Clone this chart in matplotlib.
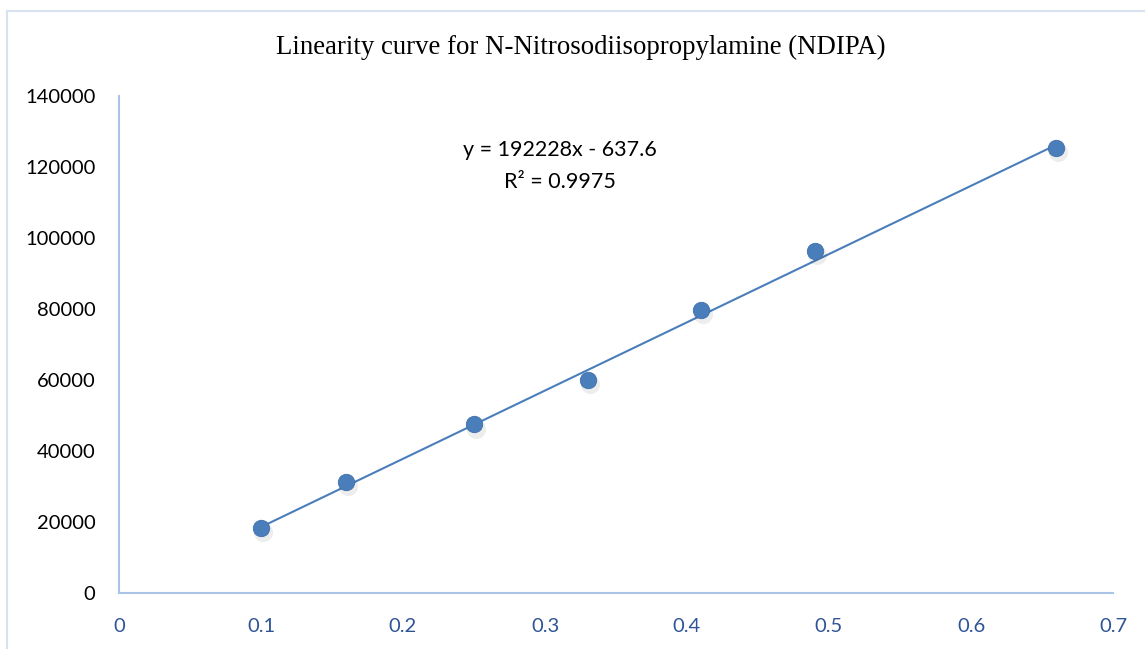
import numpy as np
import matplotlib.pyplot as plt
import matplotlib.transforms as mtransforms
from matplotlib.lines import Line2D

conc = [0.1, 0.16, 0.25, 0.33, 0.41, 0.49, 0.66]
area = [18400, 31300, 47500, 60000, 79700, 96400, 125350]
slope = 192228
intercept = -637.6

W, H = 1145, 649
fig = plt.figure(figsize=(W / 100, H / 100), dpi=100)

# outer chart frame (partly cropped in the reference)
fig.add_artist(Line2D([7 / W, 7 / W], [0, 1 - 11 / H], color='#d9e2f0', lw=1.5, transform=fig.transFigure))
fig.add_artist(Line2D([7 / W, 1], [1 - 11 / H, 1 - 11 / H], color='#d9e2f0', lw=1.5, transform=fig.transFigure))

ax = fig.add_axes([119 / W, (H - 593) / H, (1113 - 119) / W, (593 - 96) / H])

xs = np.array([min(conc), max(conc)])
ax.plot(xs, slope * xs + intercept, color='#4a7ebb', lw=1.5, zorder=2)

# soft shadow under the markers
shadow = ax.transData + mtransforms.ScaledTranslation(1.5 / 72, -3 / 72, fig.dpi_scale_trans)
ax.scatter(conc, area, s=190, color='#000000', alpha=0.07, linewidths=0, transform=shadow, zorder=2.5)
ax.scatter(conc, area, s=140, color='#4a7ebb', edgecolors='#3f70aa', linewidths=0.6, zorder=3)

ax.set_xlim(0, 0.7)
ax.set_ylim(0, 140000)
ax.set_xticks(np.arange(0, 0.71, 0.1))
ax.set_xticklabels(['0', '0.1', '0.2', '0.3', '0.4', '0.5', '0.6', '0.7'])
ax.set_yticks(np.arange(0, 140001, 20000))
ax.set_yticklabels([str(v) for v in range(0, 140001, 20000)])

for s in ['top', 'right']:
    ax.spines[s].set_visible(False)
for s in ['left', 'bottom']:
    ax.spines[s].set_color('#abc4e6')
    ax.spines[s].set_linewidth(1.5)

ax.tick_params(length=0, labelsize=14.5)
ax.tick_params(axis='x', pad=18, labelcolor='#2f5496')
ax.tick_params(axis='y', pad=17, labelcolor='black')
for lab in ax.get_xticklabels() + ax.get_yticklabels():
    lab.set_family('Lato')

fig.text(581 / W, 1 - 47 / H, 'Linearity curve for N-Nitrosodiisopropylamine (NDIPA)',
         ha='center', va='center', fontsize=19.3, family='Liberation Serif')
ax.text(0.3108, 120200, 'y = 192228x - 637.6\nR² = 0.9975', ha='center', va='center',
        fontsize=15.5, family='Lato', linespacing=1.75)

fig.savefig('out.png', dpi=100)
